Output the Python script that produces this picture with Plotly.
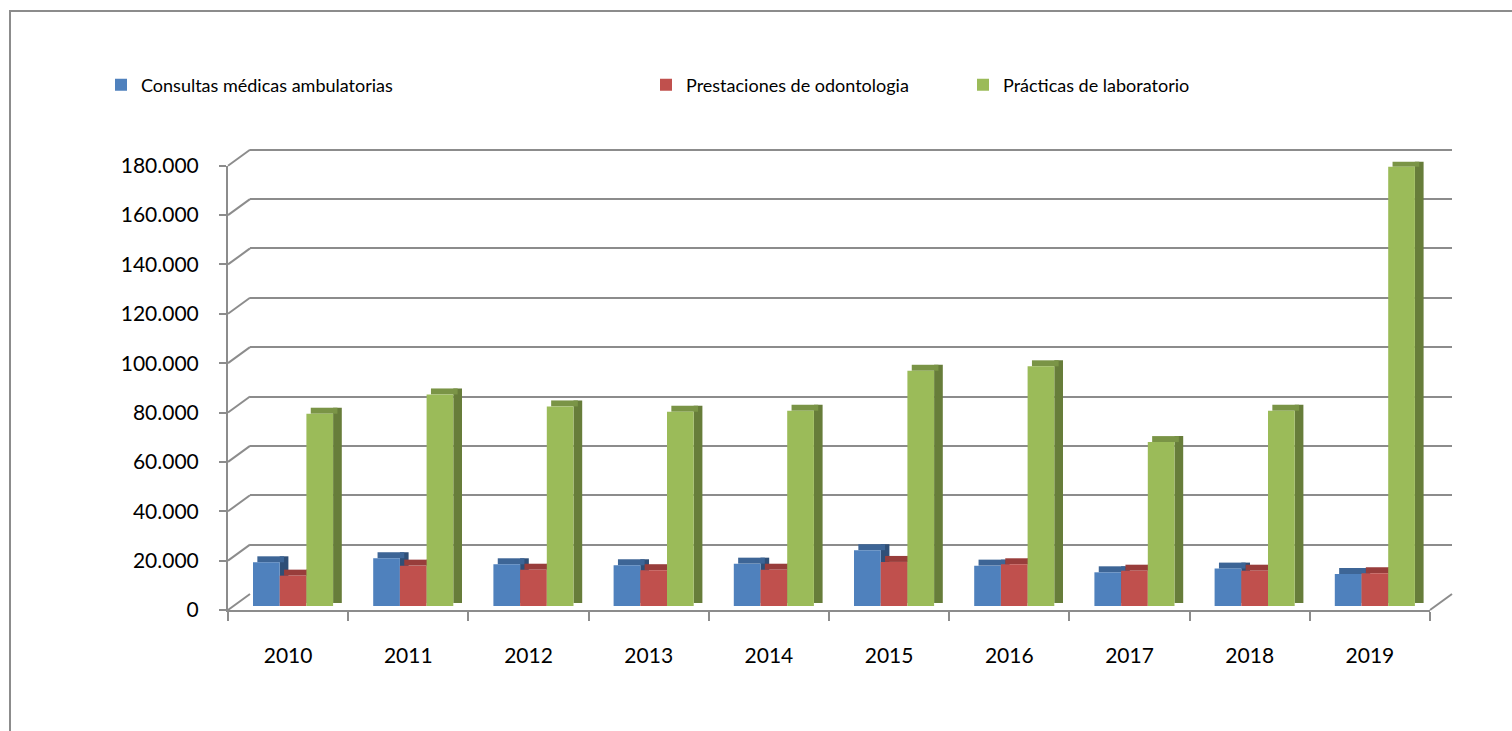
import plotly.graph_objects as go

# ---------------- data ----------------
years = ["2010", "2011", "2012", "2013", "2014", "2015", "2016", "2017", "2018", "2019"]
consultas = [17700, 19350, 16900, 16500, 17150, 22600, 16350, 13650, 15150, 13000]
odontologia = [12300, 16350, 14700, 14500, 14700, 17850, 16900, 14300, 14300, 13250]
laboratorio = [77900, 85700, 80850, 78700, 79100, 95300, 97100, 66400, 79100, 178000]
series_names = ["Consultas médicas ambulatorias", "Prestaciones de odontologia", "Prácticas de laboratorio"]
y_ticks = list(range(0, 180001, 20000))

# ---------------- layout geometry (pixels) ----------------
W, H = 1512, 731
FX0, FX1 = 228, 1430          # front plane x extent
FY0, FY1 = 610, 165.7         # front plane: y of 0 and of 180.000
DX, DY = 22, 16               # depth offset of back wall
BDX, BDY = 5.5, 4             # depth offset of bars
SDX, SDY = 8.7, 6             # bar extrusion depth
YMAX = 180000
EXTRA = 1.02                  # headroom so the top back gridline is drawn

def px_x(p):
    return p / W

def px_y(p):
    return (H - p) / H

data_per_px = YMAX / (FY0 - FY1)
cat_px = (FX1 - FX0) / len(years)

def val_to_py(v, shift_px=0):
    """paper y of a value on the front plane, optionally shifted up by shift_px"""
    return px_y(FY0 - v / data_per_px - shift_px)

front = dict(blue="#4F81BD", red="#C0504D", green="#9BBB59")
tops = dict(blue="#3D6596", red="#983D3B", green="#7A9446")
sides = dict(blue="#2F4F77", red="#7A302E", green="#677D3A")
keys = ["blue", "red", "green"]
values = [consultas, odontologia, laboratorio]

bar_w = 26.7 / cat_px
offsets = [(-40.6 + i * 26.7) / cat_px for i in range(3)]

fig = go.Figure()

fig.add_trace(go.Scatter(x=years, y=[None] * len(years), xaxis="x2", yaxis="y2",
                         showlegend=False, hoverinfo="skip"))
fig.add_trace(go.Scatter(x=years, y=[None] * len(years), xaxis="x", yaxis="y",
                         showlegend=False, hoverinfo="skip"))

top_h = SDY * data_per_px
legends = ["legend", "legend2", "legend3"]
for k, vals, off, name, lg in zip(keys, values, offsets, series_names, legends):
    # side face
    fig.add_trace(go.Bar(x=years, y=[v + top_h * 0.5 for v in vals],
                         base=top_h * 0.5, offset=off + bar_w, width=SDX / cat_px,
                         marker=dict(color=sides[k], line=dict(width=0)),
                         xaxis="x3", yaxis="y3", showlegend=False, hoverinfo="skip"))
    # top face
    fig.add_trace(go.Bar(x=years, y=[top_h] * len(vals), base=vals,
                         offset=off + SDX * 0.5 / cat_px, width=bar_w,
                         marker=dict(color=tops[k], line=dict(width=0)),
                         xaxis="x3", yaxis="y3", showlegend=False, hoverinfo="skip"))
    # front face
    fig.add_trace(go.Bar(x=years, y=vals, offset=off, width=bar_w, name=name,
                         marker=dict(color=front[k], line=dict(width=0)),
                         xaxis="x3", yaxis="y3", legend=lg))

shapes = []
for v in y_ticks:
    shapes.append(dict(type="line", xref="paper", yref="paper",
                       x0=px_x(FX0), x1=px_x(FX0 + DX),
                       y0=val_to_py(v), y1=val_to_py(v, DY),
                       line=dict(color="#8C8C8C", width=2)))
shapes.append(dict(type="line", xref="paper", yref="paper",
                   x0=px_x(FX1), x1=px_x(FX1 + DX), y0=val_to_py(0), y1=val_to_py(0, DY),
                   line=dict(color="#8C8C8C", width=2)))
shapes.append(dict(type="rect", xref="paper", yref="paper",
                   x0=px_x(10), x1=1.05, y0=-0.05, y1=px_y(11),
                   line=dict(color="#8C8C8C", width=2), fillcolor="rgba(0,0,0,0)", layer="below"))

font_family = "Lato, Roboto, sans-serif"

axis_common = dict(range=[-0.5, len(years) - 0.5], type="category", automargin=False)
legend_common = dict(xanchor="left", yanchor="middle", orientation="h",
                     bgcolor="rgba(0,0,0,0)", font=dict(size=18), itemwidth=30)
back_top_px = FY1 - DY - (EXTRA - 1) * (FY0 - FY1)
fig.update_layout(
    width=W, height=H, autosize=False,
    margin=dict(l=0, r=0, t=0, b=0, pad=0, autoexpand=False),
    paper_bgcolor="white", plot_bgcolor="rgba(0,0,0,0)",
    barmode="overlay",
    separators=",.",
    font=dict(family=font_family, size=21, color="#000000"),
    shapes=shapes,
    xaxis=dict(**axis_common, domain=[px_x(FX0), px_x(FX1)], anchor="y",
               showline=True, linecolor="#8C8C8C", linewidth=2,
               ticks="outside", tickson="boundaries", ticklen=9, tickwidth=2, tickcolor="#8C8C8C",
               showgrid=False, ticklabelstandoff=26, tickfont=dict(size=21)),
    yaxis=dict(range=[0, YMAX], automargin=False, domain=[px_y(FY0), px_y(FY1)], anchor="x",
               showline=True, linecolor="#8C8C8C", linewidth=2,
               ticks="outside", ticklen=7, tickwidth=2, tickcolor="#8C8C8C",
               tickvals=y_ticks, tickformat=",d", showgrid=False, zeroline=False,
               ticklabelstandoff=16, tickfont=dict(size=21)),
    xaxis2=dict(**axis_common, domain=[px_x(FX0 + DX), px_x(FX1 + DX)], anchor="y2",
                showline=False, showgrid=False, showticklabels=False, ticks=""),
    yaxis2=dict(range=[0, YMAX * EXTRA], automargin=False,
                domain=[px_y(FY0 - DY), px_y(back_top_px)], anchor="x2",
                showline=False, showgrid=True, gridcolor="#8C8C8C", gridwidth=2,
                tickvals=y_ticks, showticklabels=False, ticks="", zeroline=False),
    xaxis3=dict(**axis_common, domain=[px_x(FX0 + BDX), px_x(FX1 + BDX)], anchor="y3",
                visible=False),
    yaxis3=dict(range=[0, YMAX], automargin=False,
                domain=[px_y(FY0 - BDY), px_y(FY1 - BDY)], anchor="x3", visible=False),
    legend=dict(**legend_common, x=px_x(101), y=px_y(85)),
    legend2=dict(**legend_common, x=px_x(646), y=px_y(85)),
    legend3=dict(**legend_common, x=px_x(963), y=px_y(85)),
)

fig.write_html("out.html", config={"displayModeBar": False},
               post_script="document.body.style.margin='0px';document.body.style.overflow='hidden';")
